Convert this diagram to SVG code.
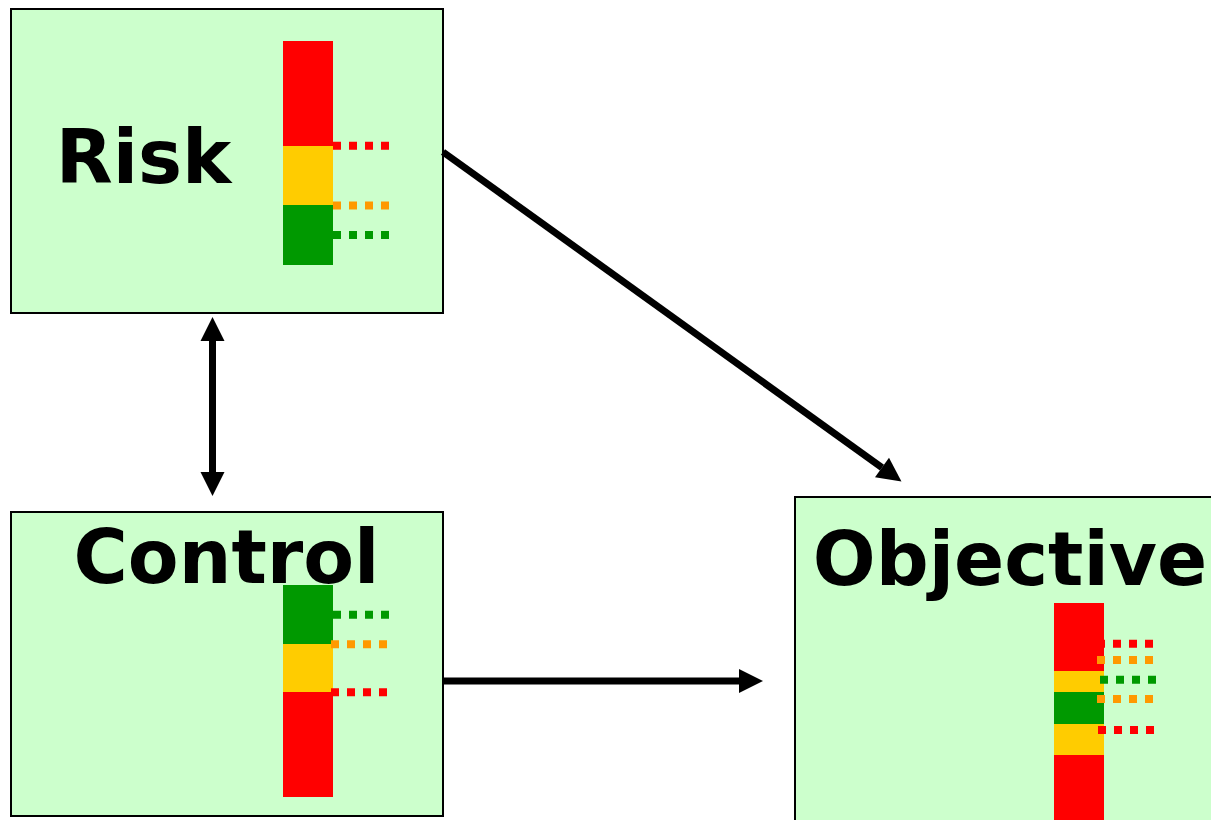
<svg xmlns="http://www.w3.org/2000/svg" width="1211" height="820" viewBox="0 0 1211 820">
  <style>
    .box { fill: #CCFFCC; stroke: #000000; stroke-width: 2; }
    .label { font-family: "DejaVu Sans", Verdana, sans-serif; font-weight: bold; font-size: 74px; fill: #000000; text-anchor: middle; }
    .red { fill: #FF0000; }
    .yellow { fill: #FFCC00; }
    .green { fill: #009900; }
    .dots { fill: none; stroke-width: 8; stroke-dasharray: 8 8; }
    .d-red { stroke: #FF0000; }
    .d-orange { stroke: #FF9900; }
    .d-green { stroke: #009900; }
    .link { fill: none; stroke: #000000; stroke-width: 7; }
  </style>
  <defs>
    <marker id="head" markerUnits="userSpaceOnUse" markerWidth="25" markerHeight="24" refX="0" refY="12" orient="auto-start-reverse" overflow="visible">
      <path d="M0,0 L24,12 L0,24 Z" fill="#000000"/>
    </marker>
  </defs>
  <rect width="1211" height="820" fill="#FFFFFF"/>

  <!-- Risk -->
  <g id="risk">
    <rect class="box" x="11" y="9" width="432" height="304"/>
    <text class="label" x="143.5" y="183">Risk</text>
    <rect class="red" x="283" y="41" width="50" height="105"/>
    <rect class="yellow" x="283" y="146" width="50" height="59"/>
    <rect class="green" x="283" y="205" width="50" height="60"/>
    <line class="dots d-red" x1="333" y1="145.7" x2="389" y2="145.7"/>
    <line class="dots d-orange" x1="333" y1="205.5" x2="389" y2="205.5"/>
    <line class="dots d-green" x1="333" y1="235" x2="389" y2="235"/>
  </g>

  <!-- Control -->
  <g id="control">
    <rect class="box" x="11" y="512" width="432" height="304"/>
    <text class="label" x="226.5" y="583">Control</text>
    <rect class="green" x="283" y="585" width="50" height="59"/>
    <rect class="yellow" x="283" y="644" width="50" height="48"/>
    <rect class="red" x="283" y="692" width="50" height="105"/>
    <line class="dots d-green" x1="333" y1="614.7" x2="389" y2="614.7"/>
    <line class="dots d-orange" x1="331" y1="644.3" x2="387" y2="644.3"/>
    <line class="dots d-red" x1="331" y1="692.3" x2="387" y2="692.3"/>
  </g>

  <!-- Objective -->
  <g id="objective">
    <rect class="box" x="795" y="497" width="440" height="340"/>
    <text class="label" x="1010" y="585">Objective</text>
    <rect class="red" x="1054" y="603" width="50" height="68"/>
    <rect class="yellow" x="1054" y="671" width="50" height="21"/>
    <rect class="green" x="1054" y="692" width="50" height="32"/>
    <rect class="yellow" x="1054" y="724" width="50" height="31"/>
    <rect class="red" x="1054" y="755" width="50" height="70"/>
    <line class="dots d-red" x1="1097" y1="643.7" x2="1153" y2="643.7"/>
    <line class="dots d-orange" x1="1097" y1="660" x2="1153" y2="660"/>
    <line class="dots d-green" x1="1100" y1="679.7" x2="1156" y2="679.7"/>
    <line class="dots d-orange" x1="1097" y1="699" x2="1153" y2="699"/>
    <line class="dots d-red" x1="1098" y1="730" x2="1154" y2="730"/>
  </g>

  <!-- Connectors -->
  <g id="connectors">
    <line class="link" x1="212.5" y1="341" x2="212.5" y2="472" marker-start="url(#head)" marker-end="url(#head)"/>
    <line class="link" x1="443" y1="152" x2="882" y2="467.6" marker-end="url(#head)"/>
    <line class="link" x1="443" y1="681" x2="739" y2="681" marker-end="url(#head)"/>
  </g>
</svg>
